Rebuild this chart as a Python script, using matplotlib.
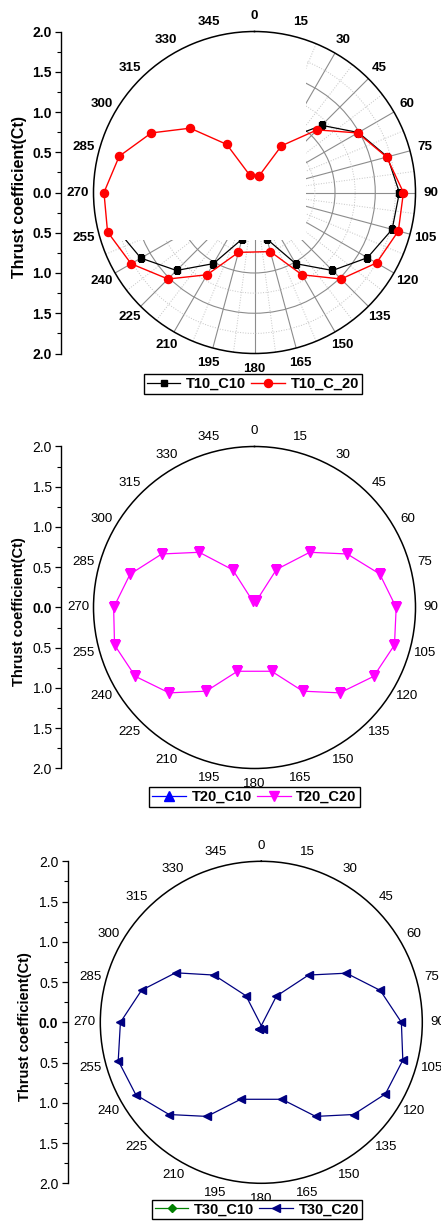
import numpy as np
import matplotlib
matplotlib.use('Agg')
import matplotlib.pyplot as plt
from matplotlib.patches import Rectangle
from matplotlib.ticker import MultipleLocator, FixedLocator, FixedFormatter

plt.rcParams['font.family'] = ['Liberation Sans', 'DejaVu Sans']

W, H = 441, 1225

# ---------------- data ----------------
angles = [15, 30, 45, 60, 75, 90, 105, 120, 135, 150, 165,
          195, 210, 225, 240, 255, 270, 285, 300, 315, 330, 345]

t10_c10 = [0.20, 0.76, 1.18, 1.49, 1.71, 1.80, 1.77, 1.62, 1.37, 1.02, 0.60,
           0.60, 1.02, 1.37, 1.63, 1.77, 1.80, 1.71, 1.49, 1.18, 0.76, 0.20]
t10_c_20 = [0.21, 0.67, 1.10, 1.48, 1.70, 1.85, 1.85, 1.75, 1.52, 1.18, 0.76,
            0.77, 1.18, 1.52, 1.77, 1.89, 1.87, 1.74, 1.48, 1.13, 0.69, 0.22]

t20_c10 = []
t20_c20 = [0.08, 0.545, 0.97, 1.33, 1.61, 1.76, 1.80, 1.71, 1.50, 1.20, 0.82,
           0.82, 1.20, 1.50, 1.71, 1.80, 1.75, 1.60, 1.33, 0.97, 0.54, 0.08]

t30_c10 = []
t30_c20 = [-0.09, 0.375, 0.83, 1.22, 1.53, 1.74, 1.82, 1.78, 1.62, 1.35, 0.99,
           0.99, 1.35, 1.62, 1.80, 1.84, 1.75, 1.54, 1.23, 0.83, 0.38, -0.09]

angle_ticks = list(range(0, 360, 15))
angle_labels = [str(a) for a in angle_ticks]
radial_ticks = [-2.0, -1.5, -1.0, -0.5, 0.0, 0.5, 1.0, 1.5, 2.0]
radial_labels = ['%.1f' % abs(v) for v in radial_ticks]
ylabel_text = 'Thrust coefficient(Ct)'

# ---------------- helpers ----------------
fig = plt.figure(figsize=(W / 100, H / 100), dpi=100)
R = 161.0            # pixels for r = 2.0
PX_PER_UNIT = R / 2.0


def px_rect(left, top, w, h):
    return [left / W, 1 - (top + h) / H, w / W, h / H]


def polar_series(ax, ang, vals, **kw):
    if len(vals) == 0:
        return ax.plot([], [], **kw)[0]
    th = np.deg2rad(np.asarray(ang, float))
    r = np.asarray(vals, float)
    neg = r < 0
    th = np.where(neg, th + np.pi, th)
    r = np.abs(r)
    th = np.append(th, th[0])
    r = np.append(r, r[0])
    return ax.plot(th, r, **kw)[0]


def make_panel(cx, cy, axis_x, ylab_x, ylab_y, bold, grid, ylab_size):
    weight = 'bold' if bold else 'normal'
    ax = fig.add_axes(px_rect(cx - R, cy - R, 2 * R, 2 * R), projection='polar')
    ax.set_theta_zero_location('N')
    ax.set_theta_direction(-1)
    ax.set_ylim(0, 2.0)
    ax.spines['polar'].set_linewidth(1.1)
    ax.spines['polar'].set_color('black')
    if grid:
        ax.set_axisbelow(True)
        ax.set_xticks(np.deg2rad(angle_ticks))
        ax.set_xticks(np.deg2rad(np.arange(7.5, 360, 15)), minor=True)
        ax.set_yticks([0.5, 1.0, 1.5])
        ax.set_yticks([0.25, 0.75, 1.25, 1.75], minor=True)
        ax.grid(True, which='major', color='#8c8c8c', lw=0.8, ls='-')
        ax.grid(True, which='minor', color='#c4c4c4', lw=0.7, ls=':')
        ax.set_xticklabels([])
        ax.set_yticklabels([])
        ax.set_yticklabels([], minor=True)
        ax.tick_params(which='both', length=0)
    else:
        ax.set_xticks([])
        ax.set_yticks([])
        ax.grid(False)
    off = 15.5 / PX_PER_UNIT
    for a, lab in zip(angle_ticks, angle_labels):
        ax.text(np.deg2rad(a), 2.0 + off, lab, ha='center', va='center',
                fontsize=9.6, fontweight=weight, clip_on=False)

    lax = fig.add_axes(px_rect(axis_x, cy - R, 1, 2 * R))
    lax.set_ylim(-2.0, 2.0)
    lax.patch.set_visible(False)
    for s in ['top', 'right', 'bottom']:
        lax.spines[s].set_visible(False)
    lax.spines['left'].set_linewidth(1.0)
    lax.set_xticks([])
    lax.yaxis.set_major_locator(FixedLocator(radial_ticks))
    lax.yaxis.set_major_formatter(FixedFormatter(radial_labels))
    lax.yaxis.set_minor_locator(MultipleLocator(0.25))
    lax.tick_params(axis='y', which='major', direction='out', length=4.5,
                    width=0.9, pad=2.2, labelsize=10)
    lax.tick_params(axis='y', which='minor', direction='out', length=2.8,
                    width=0.8)
    for t in lax.get_yticklabels():
        t.set_fontweight(weight)
    lax.get_yticklabels()[4].set_fontweight('bold')
    fig.text(ylab_x / W, 1 - ylab_y / H, ylabel_text, rotation=90,
             ha='center', va='center', fontsize=ylab_size, fontweight='bold')
    return ax


def make_legend(handles, labels, cx, cy):
    leg = fig.legend(handles, labels, loc='center',
                     bbox_to_anchor=(cx / W, 1 - cy / H), ncol=2,
                     prop={'weight': 'bold', 'size': 10.5}, frameon=True,
                     fancybox=False, edgecolor='black', framealpha=1,
                     borderpad=0.2, handlelength=2.3, handletextpad=0.4,
                     columnspacing=0.35, borderaxespad=0.0)
    leg.get_frame().set_linewidth(1.0)
    return leg


# ---------------- panel 1 ----------------
ax1 = make_panel(254.5, 192.5, 61, 19.5, 197, True, True, 11.5)
h1 = polar_series(ax1, angles, t10_c10, color='black', lw=0.9, marker='s',
                  ms=5, zorder=1.0, label='T10_C10')
mask = Rectangle((0.0, 0.3525), 0.66, 0.70, transform=ax1.transAxes,
                 facecolor='white', edgecolor='none', zorder=1.2)
ax1.add_patch(mask)
h2 = polar_series(ax1, angles, t10_c_20, color='red', lw=1.0, marker='o',
                  ms=5.8, zorder=2.0, label='T10_C_20')
make_legend([h1, h2], ['T10_C10', 'T10_C_20'], 253, 384)

# ---------------- panel 2 ----------------
ax2 = make_panel(254.5, 607.5, 61, 19, 612, False, False, 10.6)
h3 = polar_series(ax2, angles, t20_c10, color='blue', lw=0.9, marker='^',
                  ms=6.5, label='T20_C10')
h4 = polar_series(ax2, angles, t20_c20, color='#ff00ff', lw=0.9, marker='v',
                  ms=6.5, label='T20_C20')
make_legend([h3, h4], ['T20_C10', 'T20_C20'], 254.5, 797)

# ---------------- panel 3 ----------------
ax3 = make_panel(261.3, 1022.3, 67.7, 25.3, 1027, False, False, 10.6)
h5 = polar_series(ax3, angles, t30_c10, color='#008000', lw=0.9, marker='D',
                  ms=4.5, label='T30_C10')
h6 = polar_series(ax3, angles, t30_c20, color='#000080', lw=0.9, marker='<',
                  ms=5.4, label='T30_C20')
make_legend([h5, h6], ['T30_C10', 'T30_C20'], 257, 1209.5)

fig.savefig('out.png', dpi=100)
